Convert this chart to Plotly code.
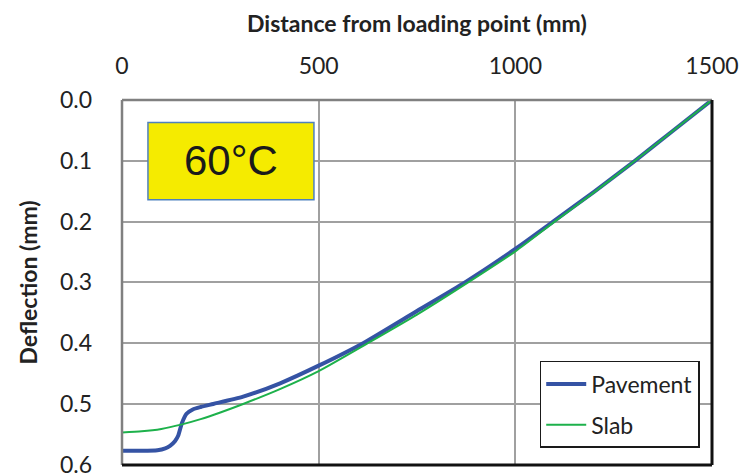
import plotly.graph_objects as go

# Distance from loading point (mm) and deflection (mm)
pavement_x = [0, 50, 90, 110, 122, 135, 143, 152, 164, 180, 200, 232, 308, 402, 500,
              613, 750, 872, 1000, 1096, 1200, 1304, 1400, 1500]
pavement_y = [0.577, 0.577, 0.576, 0.573, 0.569, 0.561, 0.552, 0.532, 0.516, 0.509, 0.505,
              0.500, 0.488, 0.466, 0.437, 0.400, 0.347, 0.300, 0.245, 0.200, 0.151,
              0.100, 0.051, 0.0]

slab_x = [0, 50, 100, 150, 200, 250, 308, 400, 500, 625, 750, 880, 1000, 1100, 1200,
          1304, 1400, 1500]
slab_y = [0.547, 0.545, 0.541, 0.534, 0.525, 0.514, 0.500, 0.476, 0.446, 0.400, 0.353,
          0.300, 0.249, 0.200, 0.152, 0.100, 0.051, 0.0]

x_ticks = [0, 500, 1000, 1500]
y_ticks = [0.0, 0.1, 0.2, 0.3, 0.4, 0.5, 0.6]

FONT = "Lato, 'Open Sans', sans-serif"
TXT = "#222222"

fig = go.Figure()
fig.add_trace(go.Scatter(
    x=pavement_x, y=pavement_y, mode="lines", name="Pavement",
    line=dict(color="#3553A4", width=4, shape="spline", smoothing=0.6),
    legendgroup="p",
))
fig.add_trace(go.Scatter(
    x=slab_x, y=slab_y, mode="lines", name="Slab",
    line=dict(color="#1DB14B", width=2, shape="spline", smoothing=0.6),
    legendgroup="s",
))

fig.update_layout(
    width=742, height=475,
    margin=dict(l=122, r=30, t=100, b=10, autoexpand=False),
    paper_bgcolor="white", plot_bgcolor="white",
    font=dict(family=FONT, size=23, color=TXT),
    showlegend=True,
    legend=dict(
        x=0.708, y=0.285, xanchor="left", yanchor="top",
        bordercolor="#1a1a1a", borderwidth=1.5, bgcolor="white",
        font=dict(family=FONT, size=23, color=TXT),
        itemwidth=40, tracegroupgap=8,
    ),
    xaxis=dict(
        side="top", range=[0, 1500], tickvals=x_ticks,
        showgrid=True, gridcolor="#A0A0A0", gridwidth=1.5,
        zeroline=False, showline=False, automargin=False,
        ticks="", ticklabelstandoff=20, ticklabeloverflow="allow",
        tickfont=dict(family=FONT, size=23, color=TXT),
    ),
    yaxis=dict(
        range=[0.6004, 0.0], tickvals=y_ticks, tickformat=".1f",
        showgrid=True, gridcolor="#A0A0A0", gridwidth=1.5,
        zeroline=False, showline=False, automargin=False,
        ticks="", ticklabelstandoff=29, ticklabeloverflow="allow",
        tickfont=dict(family=FONT, size=23, color=TXT),
    ),
    shapes=[
        # plot frame: grey top/left, dark right/bottom
        dict(type="line", xref="paper", yref="paper", x0=0, x1=1, y0=1, y1=1,
             line=dict(color="#808080", width=2.5)),
        dict(type="line", xref="paper", yref="paper", x0=0, x1=0, y0=0, y1=1,
             line=dict(color="#808080", width=2.5)),
        dict(type="line", xref="paper", yref="paper", x0=1, x1=1, y0=0, y1=1,
             line=dict(color="#111111", width=3)),
        dict(type="line", xref="paper", yref="paper", x0=0, x1=1, y0=0, y1=0,
             line=dict(color="#111111", width=3)),
        # temperature label box
        dict(type="rect", xref="x", yref="y", x0=66, x1=488, y0=0.037, y1=0.164,
             fillcolor="#F5EB00", line=dict(color="#4F81BD", width=1.5)),
    ],
    annotations=[
        dict(text="60°C", xref="x", yref="y", x=277, y=0.1, showarrow=False,
             font=dict(family="'Liberation Sans', Arial, sans-serif", size=42,
                       color="#1a1a1a")),
        dict(text="<b>Distance from loading point (mm)</b>", xref="paper", yref="paper",
             x=0.5, y=1, yshift=77, yanchor="middle", showarrow=False,
             font=dict(family=FONT, size=23, color=TXT)),
        dict(text="<b>Deflection (mm)</b>", xref="paper", yref="paper",
             x=0, y=0.5, xshift=-95, xanchor="center", yanchor="middle",
             showarrow=False, textangle=-90,
             font=dict(family=FONT, size=23, color=TXT)),
    ],
)

fig.write_html("out.html")
